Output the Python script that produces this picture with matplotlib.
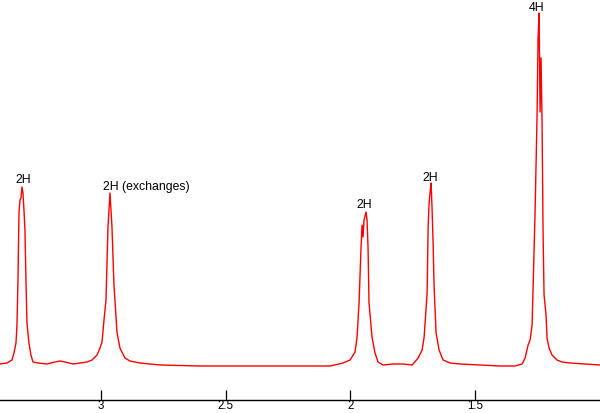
import matplotlib
matplotlib.use("Agg")
import matplotlib.pyplot as plt

# Chemical shift (ppm) and intensity
shift_ppm = [
    3.405, 3.377, 3.357, 3.349, 3.341, 3.337, 3.333, 3.329, 3.325, 3.321,
    3.317, 3.313, 3.309, 3.305, 3.301, 3.297, 3.289, 3.281, 3.273, 3.253,
    3.217, 3.185, 3.164, 3.144, 3.112, 3.056, 3.036, 3.016, 3.004, 2.996,
    2.988, 2.980, 2.972, 2.964, 2.956, 2.948, 2.936, 2.924, 2.904, 2.884,
    2.844, 2.763, 2.603, 2.402, 2.202, 2.081, 2.029, 2.001, 1.981, 1.973,
    1.965, 1.957, 1.953, 1.949, 1.945, 1.937, 1.933, 1.929, 1.925, 1.913,
    1.901, 1.889, 1.869, 1.829, 1.789, 1.752, 1.728, 1.712, 1.704, 1.692,
    1.688, 1.684, 1.680, 1.676, 1.672, 1.668, 1.664, 1.656, 1.644, 1.628,
    1.600, 1.560, 1.480, 1.399, 1.339, 1.311, 1.299, 1.287, 1.279, 1.271,
    1.267, 1.259, 1.251, 1.247, 1.243, 1.239, 1.235, 1.231, 1.227, 1.223,
    1.215, 1.211, 1.203, 1.191, 1.171, 1.151, 1.119, 1.059, 0.998,
]
intensity = [
    38, 39, 42, 49, 59, 77, 122, 189, 202, 204,
    215, 209, 192, 172, 122, 79, 59, 47, 40, 39,
    38, 40, 41, 40, 38, 40, 42, 47, 54, 60,
    82, 102, 175, 209, 175, 117, 70, 54, 44, 41,
    39, 37, 36, 36, 36, 36, 39, 42, 50, 65,
    99, 155, 177, 165, 182, 190, 182, 155, 99, 65,
    49, 40, 37, 38, 38, 37, 44, 52, 65, 109,
    175, 199, 210, 219, 192, 159, 115, 69, 52, 42,
    39, 38, 37, 36, 36, 38, 44, 57, 62, 77,
    114, 190, 287, 364, 389, 290, 344, 280, 170, 107,
    87, 64, 54, 47, 42, 40, 39, 38, 37,
]

# Integration labels
label_texts = ["2H", "2H (exchanges)", "2H", "2H", "4H"]
label_ppm = [3.311, 2.992, 1.944, 1.680, 1.253]
label_height = [219, 212, 194, 221, 391]
label_align = ["center", "left", "center", "center", "center"]

tick_values = [3, 2.5, 2, 1.5]
tick_labels = ["3", "2.5", "2", "1.5"]

plt.rcParams["font.family"] = ["Liberation Sans", "DejaVu Sans"]

fig = plt.figure(figsize=(6.0, 4.13), dpi=100)
ax = fig.add_axes([0, 13 / 413, 1, 400 / 413])

ax.plot(shift_ppm, intensity, color="#ff0000", lw=1.0)

for txt, xp, yh, ha in zip(label_texts, label_ppm, label_height, label_align):
    ax.text(xp, yh, txt, ha=ha, va="baseline", fontsize=8.8, color="black")

ax.set_xlim(3.4051, 0.9986)
ax.set_ylim(2, 402)

for side in ["top", "left", "right"]:
    ax.spines[side].set_visible(False)
ax.spines["bottom"].set_linewidth(1.0)
ax.spines["bottom"].set_color("black")

ax.set_xticks(tick_values)
ax.set_xticklabels(tick_labels)
ax.tick_params(axis="x", direction="in", length=7.2, width=0.9, pad=0,
               labelsize=8.3, colors="black")
ax.set_yticks([])
ax.patch.set_alpha(0)

fig.savefig("out.png", dpi=100, facecolor="white")
